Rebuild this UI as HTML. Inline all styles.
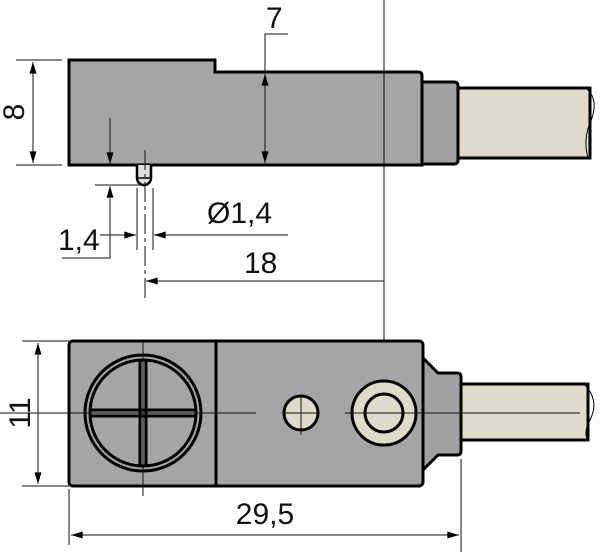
<!DOCTYPE html>
<html><head><style>body{margin:0;background:#fff}svg{display:block}text{font-family:"Liberation Sans",Arial,sans-serif;font-size:30px;fill:#111}</style></head><body>
<svg width="600" height="552" viewBox="0 0 600 552" xmlns="http://www.w3.org/2000/svg">
<defs><marker id="a" viewBox="0 0 10 6" refX="10" refY="3" markerWidth="16" markerHeight="7" markerUnits="userSpaceOnUse" orient="auto-start-reverse"><path d="M0,0L10,3L0,6z" fill="#000"/></marker></defs>
<!-- top view -->
<path d="M458,88H590V158H458Z" fill="#dedbcd" stroke="#000" stroke-width="3"/>
<path d="M586,88Q600,100 590,123Q583,140 588,158" fill="none" stroke="#000" stroke-width="1"/>
<path d="M421,82H454Q458,82 458,86V160Q458,164 454,164H421Z" fill="#a2a2a2" stroke="#000" stroke-width="3"/>
<path d="M69,60H215V72H418Q422,72 422,76V165H69Z" fill="#a5a5a5" stroke="#000" stroke-width="3"/>
<path d="M137,165V178A7,7 0 0 0 151,178V165" fill="#ddd" stroke="#000" stroke-width="2.5"/>
<line x1="137" y1="178" x2="151" y2="178" stroke="#000" stroke-width="1.5"/>
<g stroke="#111" stroke-width="1" fill="none">
<line x1="16" y1="60" x2="62" y2="60"/><line x1="16" y1="165" x2="62" y2="165"/>
<line x1="33" y1="62" x2="33" y2="163" marker-start="url(#a)" marker-end="url(#a)"/>
<polyline points="288,34 265,34 265,72"/>
<line x1="265" y1="74" x2="265" y2="163" marker-start="url(#a)" marker-end="url(#a)"/>
<line x1="110" y1="118" x2="110" y2="164" marker-end="url(#a)"/>
<line x1="95" y1="185" x2="140" y2="185"/>
<polyline points="110,186 110,258 62,258" marker-start="url(#a)"/>
<line x1="145" y1="150" x2="145" y2="298" stroke-dasharray="20,4,4,4"/>
<line x1="137" y1="188" x2="137" y2="250"/><line x1="153" y1="188" x2="153" y2="250"/>
<line x1="100" y1="235" x2="136" y2="235" marker-end="url(#a)"/>
<line x1="288" y1="235" x2="154" y2="235" marker-end="url(#a)"/>
<line x1="384" y1="281" x2="146" y2="281" marker-end="url(#a)"/>
<line x1="384" y1="0" x2="384" y2="460"/>
</g>
<text x="266" y="28">7</text>
<text x="14" y="112" transform="rotate(-90 14 112)" text-anchor="middle" dy="10">8</text>
<text x="58" y="250">1,4</text>
<text x="207" y="223">Ø1,4</text>
<text x="244" y="273">18</text>
<!-- bottom view -->
<path d="M461,384H588V440H461Z" fill="#dedbcd" stroke="#000" stroke-width="3"/>
<path d="M584,384Q600,400 590,420Q583,433 588,440" fill="none" stroke="#000" stroke-width="1"/>
<path d="M423,358L438,373H457Q461,373 461,377V451Q461,455 457,455H438L423,470Z" fill="#a2a2a2" stroke="#000" stroke-width="3"/>
<rect x="69" y="341" width="354" height="145" rx="4" fill="#a5a5a5" stroke="#000" stroke-width="3"/>
<line x1="216" y1="341" x2="216" y2="486" stroke="#000" stroke-width="3"/>
<circle cx="143" cy="413" r="58" fill="none" stroke="#000" stroke-width="3"/>
<circle cx="143" cy="413" r="53" fill="none" stroke="#000" stroke-width="3"/>
<g stroke="#000" stroke-width="3">
<line x1="140" y1="360" x2="140" y2="466"/><line x1="146" y1="360" x2="146" y2="466"/>
<line x1="90" y1="410" x2="196" y2="410"/><line x1="90" y1="416" x2="196" y2="416"/>
</g>
<circle cx="301" cy="413" r="17" fill="#dedbcd" stroke="#000" stroke-width="3"/>
<circle cx="384" cy="413" r="32" fill="#dedbcd" stroke="#000" stroke-width="3"/>
<circle cx="384" cy="413" r="19" fill="none" stroke="#000" stroke-width="3"/>
<g stroke="#111" stroke-width="1" fill="none">
<line x1="143" y1="342" x2="143" y2="496"/>
<line x1="0" y1="413" x2="256" y2="413"/>
<line x1="285" y1="413" x2="318" y2="413"/><line x1="301" y1="395" x2="301" y2="435"/>
<line x1="345" y1="413" x2="580" y2="413"/>
<line x1="22" y1="341" x2="69" y2="341"/><line x1="22" y1="486" x2="69" y2="486"/>
<line x1="38" y1="343" x2="38" y2="484" marker-start="url(#a)" marker-end="url(#a)"/>
<line x1="69" y1="489" x2="69" y2="545"/><line x1="461" y1="459" x2="461" y2="552"/>
<line x1="71" y1="535" x2="459" y2="535" marker-start="url(#a)" marker-end="url(#a)"/>
</g>
<text x="20" y="413" transform="rotate(-90 20 413)" text-anchor="middle" dy="10">11</text>
<text x="265" y="524" text-anchor="middle">29,5</text>
</svg>
</body></html>
